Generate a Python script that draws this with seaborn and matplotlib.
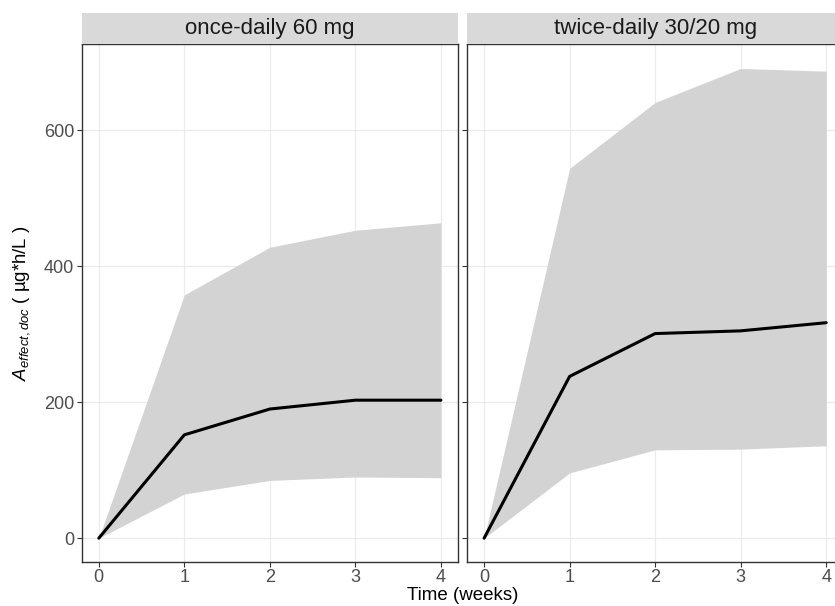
import numpy as np
import pandas as pd
import seaborn as sns
import matplotlib.pyplot as plt
from matplotlib.patches import Rectangle

# values
weeks = [0, 1, 2, 3, 4]
panels = ["once-daily 60 mg", "twice-daily 30/20 mg"]
median_once = [0, 152, 190, 203, 203]
lower_once = [0, 65, 85, 90, 89]
upper_once = [0, 358, 428, 453, 464]
median_twice = [0, 238, 301, 305, 317]
lower_twice = [0, 96, 130, 131, 136]
upper_twice = [0, 544, 641, 691, 687]
y_ticks = [0, 200, 400, 600]

df = pd.concat([
    pd.DataFrame({"Week": weeks, "Median": median_once, "Lower": lower_once,
                  "Upper": upper_once, "Regimen": panels[0]}),
    pd.DataFrame({"Week": weeks, "Median": median_twice, "Lower": lower_twice,
                  "Upper": upper_twice, "Regimen": panels[1]}),
])

sns.set_theme(style="white")
plt.rcParams['font.family'] = ['Liberation Sans', 'DejaVu Sans']
plt.rcParams['mathtext.fontset'] = 'custom'
plt.rcParams['mathtext.it'] = 'Liberation Sans:italic'
plt.rcParams['mathtext.rm'] = 'Liberation Sans'

W, H = 835, 606
fig = plt.figure(figsize=(W / 100, H / 100), dpi=100)

ymin, ymax = -34.6, 727
lefts = [81.7, 467]
pw = 458 - 81.7
top_px, bot_px = 44, 561.7

for i, name in enumerate(panels):
    x0 = lefts[i] / W
    ax = fig.add_axes([x0, (H - bot_px) / H, pw / W, (bot_px - top_px) / H])
    sub = df[df["Regimen"] == name]
    ax.fill_between(sub["Week"], sub["Lower"], sub["Upper"], color="#D3D3D3", lw=0, zorder=2)
    sns.lineplot(data=sub, x="Week", y="Median", ax=ax, color="black", lw=2.2, zorder=3)
    ax.set_xlim(-0.2, 4.2)
    ax.set_ylim(ymin, ymax)
    ax.set_xticks(weeks)
    ax.set_yticks(y_ticks)
    ax.grid(True, color="#EBEBEB", lw=0.9, zorder=0)
    ax.set_axisbelow(True)
    for s in ax.spines.values():
        s.set_color("#333333")
        s.set_linewidth(1.0)
    ax.tick_params(axis="both", direction="out", length=3.5, width=0.8, color="#333333",
                   labelsize=13, labelcolor="#4D4D4D", pad=2, left=True, bottom=True)
    ax.set_xlabel("")
    ax.set_ylabel("")
    if i == 1:
        ax.set_yticklabels([])

    # facet strip
    sb = (H - top_px) / H
    sh = 31 / H
    fig.patches.append(Rectangle((x0, sb), pw / W, sh, transform=fig.transFigure,
                                 facecolor="#D9D9D9", edgecolor="none", lw=0))
    fig.text(x0 + pw / W / 2, sb + sh / 2, name, ha="center", va="center",
             fontsize=16, color="#1A1A1A")

fig.text(463 / W, 1 - 596 / H, "Time (weeks)", ha="center", va="center",
         fontsize=13.5, color="black")
fig.text(22 / W, 1 - 303 / H, r"$A_{effect,doc}$ ( µg*h/L )", ha="center", va="center",
         rotation=90, fontsize=13.4, color="black")

fig.savefig("out.png", dpi=100)
